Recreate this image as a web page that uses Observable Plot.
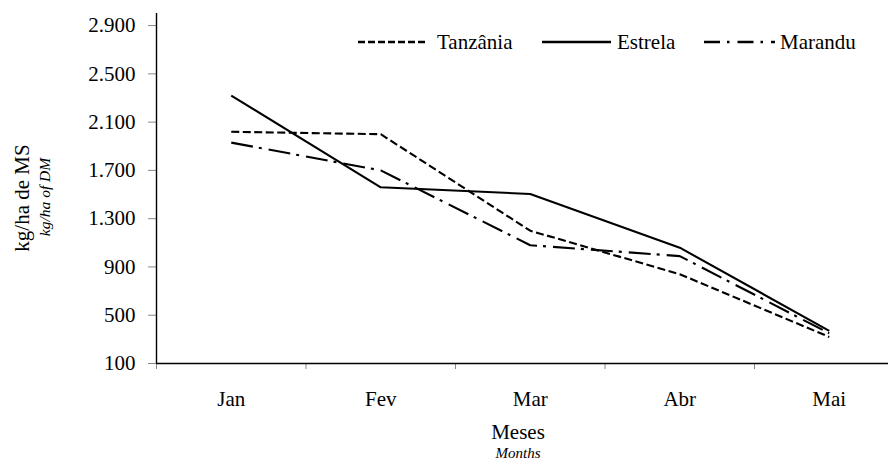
<!DOCTYPE html>
<html>
<head>
<meta charset="utf-8">
<script src="https://cdn.jsdelivr.net/npm/d3@7"></script>
<script src="https://cdn.jsdelivr.net/npm/@observablehq/plot@0.6"></script>
<style>
  html, body { margin: 0; padding: 0; background: #fff; }
  #wrap { position: relative; width: 888px; height: 461px; overflow: hidden; font-family: "Liberation Serif", "Times New Roman", serif; color: #000; }
  #wrap svg.plot { overflow: hidden; }
  .lbl { position: absolute; white-space: nowrap; transform: translate(-50%, -50%); line-height: 1; }
  .leg { position: absolute; display: flex; align-items: center; font-size: 21px; top: 31px; height: 22px; line-height: 1; }
  .leg svg { display: block; }
</style>
</head>
<body>
<div id="wrap"></div>
<script>
// ---- data ----
const months = ["Jan", "Fev", "Mar", "Abr", "Mai"];
const seriesNames = ["Tanzânia", "Estrela", "Marandu"];
const tanzania = [2020, 2000, 1200, 840, 320];
const estrela  = [2320, 1560, 1505, 1060, 370];
const marandu  = [1930, 1700, 1080, 990, 350];
const yTicks = [100, 500, 900, 1300, 1700, 2100, 2500, 2900];

// ---- styles ----
const dashes = ["8,3.5", null, "22,6,3,7"];
const values = [tanzania, estrela, marandu];

const rows = seriesNames.flatMap((s, k) => values[k].map((v, i) => ({series: s, i, value: v})));

const loc = d3.formatLocale({decimal: ",", thousands: ".", grouping: [3], currency: ["", ""]});
const fmt = loc.format(",d");

const chart = Plot.plot({
  width: 888,
  height: 461,
  marginLeft: 156,
  marginRight: 0,
  marginTop: 13,
  marginBottom: 98,
  style: {fontFamily: "'Liberation Serif', 'Times New Roman', serif", fontSize: "21px", color: "#000", background: "#fff"},
  x: {type: "linear", domain: [-0.5, 4.5], range: [156, 903.5]},
  y: {type: "linear", domain: [100, 3000], range: [363, 13]},
  marks: [
    Plot.axisY({ticks: yTicks, tickSize: 8, tickPadding: 13, tickFormat: fmt, stroke: "#888", fill: "#000", fontSize: 21, label: null}),
    Plot.axisX({ticks: [-0.5, 0.5, 1.5, 2.5, 3.5, 4.5], tickSize: 6, tickFormat: () => "", stroke: "#888", label: null}),
    Plot.axisX({ticks: months.map((m, i) => i), tickSize: 0, tickPadding: 28, tickFormat: i => months[i], fill: "#000", fontSize: 21, label: null}),
    Plot.ruleX([-0.5], {y1: 100, y2: 3000, stroke: "#000", strokeWidth: 1.4}),
    Plot.ruleY([100], {x1: -0.5, x2: 4.5, stroke: "#000", strokeWidth: 1.4}),
    ...seriesNames.map((s, k) => Plot.line(rows.filter(d => d.series === s), {
      x: "i", y: "value", stroke: "#000", strokeWidth: 2.1,
      strokeDasharray: dashes[k], strokeLinejoin: "miter", strokeLinecap: "butt"
    }))
  ]
});

const wrap = document.getElementById("wrap");
wrap.appendChild(chart);

function addLabel(text, x, y, css) {
  const d = document.createElement("div");
  d.className = "lbl";
  d.textContent = text;
  d.style.left = x + "px";
  d.style.top = y + "px";
  Object.assign(d.style, css || {});
  wrap.appendChild(d);
  return d;
}

addLabel("kg/ha de MS", 22, 198, {fontSize: "21px", transform: "translate(-50%, -50%) rotate(-90deg)"});
addLabel("kg/ha of DM", 45, 197, {fontSize: "15.5px", fontStyle: "italic", transform: "translate(-50%, -50%) rotate(-90deg)"});
addLabel("Meses", 518, 432, {fontSize: "21px"});
addLabel("Months", 518, 453, {fontSize: "15px", fontStyle: "italic"});

// legend
const legendLeft = [358, 542, 704];
const legendLen = [69, 69, 71];
seriesNames.forEach((s, k) => {
  const g = document.createElement("div");
  g.className = "leg";
  g.style.left = legendLeft[k] + "px";
  const ns = "http://www.w3.org/2000/svg";
  const sv = document.createElementNS(ns, "svg");
  sv.setAttribute("width", legendLen[k]);
  sv.setAttribute("height", 22);
  const ln = document.createElementNS(ns, "line");
  ln.setAttribute("x1", 0); ln.setAttribute("x2", legendLen[k]);
  ln.setAttribute("y1", 11); ln.setAttribute("y2", 11);
  ln.setAttribute("stroke", "#000"); ln.setAttribute("stroke-width", 2.4);
  if (dashes[k]) ln.setAttribute("stroke-dasharray", k === 0 ? "7,3" : "16,7,2.5,8");
  sv.appendChild(ln);
  g.appendChild(sv);
  const t = document.createElement("span");
  t.textContent = s;
  t.style.marginLeft = (k === 0 ? 10 : k === 1 ? 6 : 5) + "px";
  g.appendChild(t);
  wrap.appendChild(g);
});
</script>
</body>
</html>
